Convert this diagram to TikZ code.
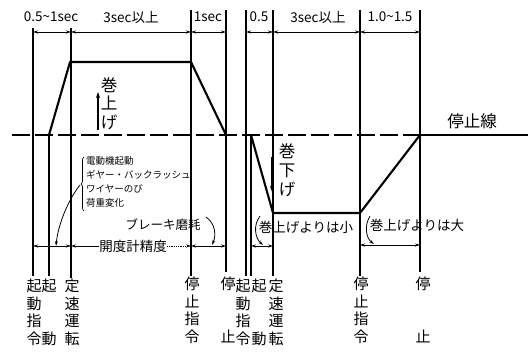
\documentclass[tikz,border=0pt]{standalone}
\usepackage{fontspec}
\setmainfont{Noto Sans CJK JP}
\usetikzlibrary{arrows.meta,decorations.pathreplacing}
\begin{document}
\begin{tikzpicture}[x=1pt,y=-1pt,
  vline/.style={line width=1.1pt},
  prof/.style={line width=2.1pt,line join=round},
  dim/.style={line width=0.8pt,{Stealth[length=5pt,width=3pt]}-{Stealth[length=5pt,width=3pt]}},
  toplab/.style={font=\fontsize{13.5}{13.5}\selectfont,inner sep=0pt},
  col/.style={font=\fontsize{15}{17.5}\selectfont,align=center,anchor=north,inner sep=0pt},
  lab/.style={font=\fontsize{13.5}{13.5}\selectfont,inner sep=0pt},
  note/.style={font=\fontsize{9.5}{14}\selectfont,align=left,anchor=north west,inner sep=0pt},
  curv/.style={line width=0.8pt,-{Stealth[length=5pt,width=3pt]}}]
\useasboundingbox (0,0) rectangle (532,352);
% vertical event lines
\draw[vline] (33,28) -- (33,276);
\draw[vline] (49,135) -- (49,276);
\draw[vline] (71,28) -- (71,278);
\draw[vline] (191,10) -- (191,276);
\draw[vline] (226,10) -- (226,272);
\draw[vline] (246,10) -- (246,276);
\draw[vline] (251,135) -- (251,276);
\draw[vline] (273,10) -- (273,276);
\draw[vline] (360,10) -- (360,276);
\draw[vline] (420,10) -- (420,272);
% stop line
\draw[line width=1.1pt,dash pattern=on 18pt off 5pt] (12,135) -- (420,135);
\draw[line width=1.1pt] (420,135) -- (528,135);
\node[font=\fontsize{16.5}{16.5}\selectfont,inner sep=0pt] (stopl) at (472,121) {停止線};
% speed profiles
\draw[prof] (49,135) -- (70,62) -- (191,62) -- (226,135);
\draw[prof] (251,135) -- (273,213) -- (360,213) -- (420,135);
% top dimensions
\draw[dim] (33,32) -- (71,32);
\draw[dim] (71,32) -- (191,32);
\draw[dim] (191,32) -- (226,32);
\draw[dim] (246,32) -- (273,32);
\draw[dim] (273,32) -- (360,32);
\draw[dim] (360,32) -- (420,32);
\node[toplab] (t1) at (51,17) {0.5\textasciitilde1sec};
\node[toplab] (t2) at (131,17) {3sec以上};
\node[toplab] (t3) at (208,17) {1sec};
\node[toplab] (t4) at (259,17) {0.5};
\node[toplab] (t5) at (318,17) {3sec以上};
\node[toplab] (t6) at (390,17) {1.0\textasciitilde1.5};
% direction marks
\draw[line width=1.1pt,-{Stealth[length=6pt,width=4pt]}] (98,130) -- (98,92);
\node[col,font=\fontsize{16.5}{18.5}\selectfont] (up) at (109,77) {巻\\上\\げ};
\draw[line width=1.1pt,-{Stealth[length=6pt,width=4pt]}] (272,157) -- (272,192);
\node[col,font=\fontsize{16.5}{19}\selectfont] (down) at (287,143) {巻\\下\\げ};
% notes with brace
\draw[line width=0.7pt,decorate,decoration={brace,amplitude=3pt}] (84,211) -- (84,157);
\node[note] (notes) at (86,156) {電動機起動\\ギヤー・バックラッシュ\\ワイヤーのび\\荷重変化};
\draw[curv] (80,185) .. controls (68,200) and (58,225) .. (56,246);
% bottom dimensions
\draw[dim] (33,246) -- (71,246);
\node[lab] (acc) at (133,246) {開度計精度};
\draw[line width=0.8pt,{Stealth[length=5pt,width=3pt]}-] (71,246) -- (acc.west);
\draw[line width=0.8pt,densely dotted,-{Stealth[length=5pt,width=3pt]}] (acc.east) -- (191,246);
\draw[dim] (191,246) -- (226,246);
\node[lab,font=\fontsize{12.5}{12.5}\selectfont] (brake) at (163,225) {ブレーキ磨耗};
\draw[curv] (206,217) .. controls (216,224) and (216,236) .. (212,245);
\draw[dim] (251,246) -- (273,246);
\node[lab] (small) at (306,227) {巻上げよりは小};
\draw[curv] (260,216) .. controls (253,225) and (255,238) .. (263,245);
\draw[dim] (360,245) -- (420,245);
\node[lab] (large) at (417,225) {巻上げよりは大};
\draw[curv] (370,216) .. controls (364,226) and (366,238) .. (374,244);
% bottom vertical labels
\node[col] (b1) at (34,279) {起\\動\\指\\令};
\node[col] (b2) at (49,279) {起\\[35pt]動};
\node[col] (b3) at (72,279) {定\\速\\運\\転};
\node[col] (b4) at (192,277) {停\\止\\指\\令};
\node[col] (b5) at (228,277) {停\\[35pt]止};
\node[col] (b6) at (243,279) {起\\動\\指\\令};
\node[col] (b7) at (259,279) {起\\[35pt]動};
\node[col] (b8) at (276,279) {定\\速\\運\\転};
\node[col] (b9) at (361,277) {停\\止\\指\\令};
\node[col] (b10) at (423,277) {停\\[35pt]止};
\end{tikzpicture}
\end{document}
